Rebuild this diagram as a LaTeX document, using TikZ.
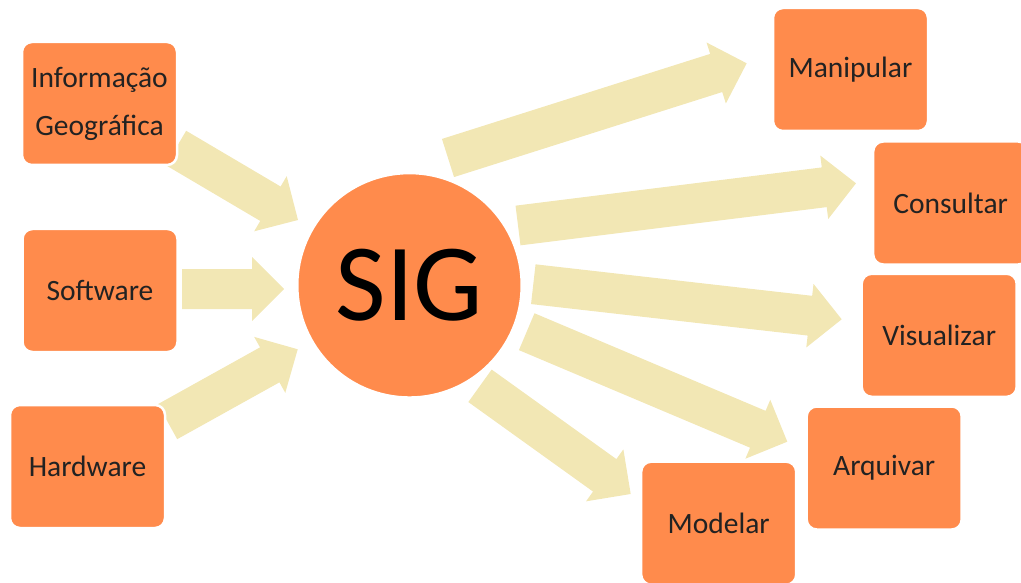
\documentclass[tikz,border=0pt]{standalone}
\usepackage{fontspec}
\setmainfont{Carlito}
\usetikzlibrary{calc}
\definecolor{boxorange}{RGB}{255,139,76}
\definecolor{arrowcream}{RGB}{242,231,180}
\definecolor{txt}{RGB}{34,34,34}
\tikzset{
  box/.style={draw=white, line width=2.5pt, fill=boxorange, rounded corners=10pt,
    minimum width=155pt, minimum height=123pt, inner sep=0pt, text=txt,
    font=\fontsize{29.5}{48}\selectfont, align=center},
  hub/.style={circle, draw=white, line width=2pt, fill=boxorange, minimum size=224pt,
    inner sep=0pt, text=black, font=\fontsize{110}{110}\selectfont},
  blockarrow/.style={fill=arrowcream}
}
\newcommand\bigarrow[2]{%
  \path ($(#2)!32pt!(#1)$) coordinate (ab);
  \fill[blockarrow] ($(#1)!20pt!90:(#2)$) -- ($(ab)!20pt!90:(#2)$) -- ($(ab)!32pt!90:(#2)$)
    -- (#2) -- ($(ab)!32pt!-90:(#2)$) -- ($(ab)!20pt!-90:(#2)$) -- ($(#1)!20pt!-90:(#2)$) -- cycle;}
\begin{document}
\begin{tikzpicture}[x=1pt,y=-1pt]
\useasboundingbox (0,0) rectangle (1021,583);
% arrow end points
\coordinate (infoT) at (176,148);   \coordinate (infoH) at (298,220);
\coordinate (softT) at (182,289);   \coordinate (softH) at (284,289);
\coordinate (hardT) at (167.5,421.7); \coordinate (hardH) at (297.7,349.3);
\coordinate (maniT) at (448,158);   \coordinate (maniH) at (746.7,63.3);
\coordinate (consT) at (518,225.5); \coordinate (consH) at (856,183.3);
\coordinate (visuT) at (533.3,284.2); \coordinate (visuH) at (841.7,319.3);
\coordinate (arquT) at (526.7,331.7); \coordinate (arquH) at (787.3,441.7);
\coordinate (modeT) at (480,385.8); \coordinate (modeH) at (630.7,494);
% arrows
\bigarrow{infoT}{infoH}
\bigarrow{softT}{softH}
\bigarrow{hardT}{hardH}
\bigarrow{maniT}{maniH}
\bigarrow{consT}{consH}
\bigarrow{visuT}{visuH}
\bigarrow{arquT}{arquH}
\bigarrow{modeT}{modeH}
% nodes
\node[hub] (sig) at (409.5,285.3) {SIG};
\node[box] (info) at (99.5,103.5) {Informação\\Geográfica};
\node[box] (soft) at (100,290.5) {Software};
\node[box] (hard) at (87.5,466.5) {Hardware};
\node[box] (mani) at (850.5,69.5) {Manipular};
\node[box] (cons) at (950.7,203) {Consultar};
\node[box] (visu) at (939.2,335.3) {Visualizar};
\node[box] (arqu) at (884.2,468) {Arquivar};
\node[box] (mode) at (718.7,523.2) {Modelar};
\end{tikzpicture}
\end{document}
